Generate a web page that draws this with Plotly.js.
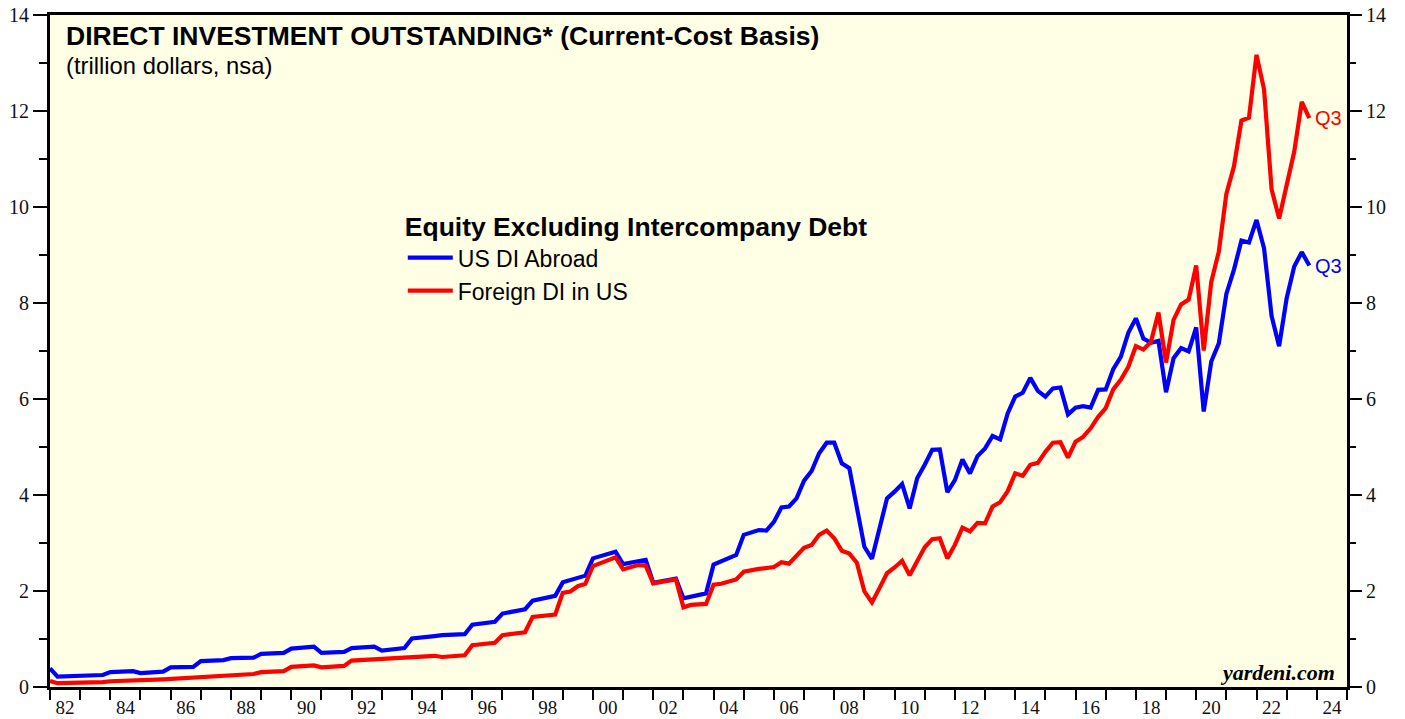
<!DOCTYPE html>
<html>
<head>
<meta charset="utf-8">
<script src="https://cdn.plot.ly/plotly-3.0.1.min.js"></script>
<style>
html,body{margin:0;padding:0;background:#ffffff;}
#chart{width:1405px;height:719px;}
</style>
</head>
<body>
<div id="chart"></div>
<script>
// ---- DATA (trillion dollars, quarter-end positions as decimal years) ----
const usAbroadX = [1982.0,1982.25,1983.75,1984.0,1984.75,1985.0,1985.75,1986.0,1986.75,1987.0,1987.75,1988.0,1988.75,1989.0,1989.75,1990.0,1990.75,1991.0,1991.75,1992.0,1992.75,1993.0,1993.75,1994.0,1994.75,1995.0,1995.75,1996.0,1996.75,1997.0,1997.75,1998.0,1998.75,1999.0,1999.75,2000.0,2000.75,2001.0,2001.75,2002.0,2002.75,2003.0,2003.75,2004.0,2004.75,2005.0,2005.5,2005.75,2006.0,2006.25,2006.5,2006.75,2007.0,2007.25,2007.5,2007.75,2008.0,2008.25,2008.5,2008.75,2009.0,2009.25,2009.5,2009.75,2010.0,2010.25,2010.5,2010.75,2011.0,2011.25,2011.5,2011.75,2012.0,2012.25,2012.5,2012.75,2013.0,2013.25,2013.5,2013.75,2014.0,2014.25,2014.5,2014.75,2015.0,2015.25,2015.5,2015.75,2016.0,2016.25,2016.5,2016.75,2017.0,2017.25,2017.5,2017.75,2018.0,2018.25,2018.5,2018.75,2019.0,2019.25,2019.5,2019.75,2020.0,2020.25,2020.5,2020.75,2021.0,2021.25,2021.5,2021.75,2022.0,2022.25,2022.5,2022.75,2023.0,2023.25,2023.5,2023.75];
const usAbroadY = [0.39,0.215,0.25,0.31,0.33,0.29,0.32,0.41,0.42,0.54,0.56,0.60,0.61,0.69,0.71,0.80,0.84,0.71,0.73,0.81,0.84,0.76,0.81,1.01,1.06,1.08,1.10,1.30,1.36,1.53,1.62,1.80,1.90,2.18,2.32,2.68,2.82,2.56,2.65,2.17,2.26,1.85,1.95,2.55,2.75,3.17,3.27,3.26,3.44,3.74,3.76,3.93,4.30,4.50,4.87,5.09,5.09,4.66,4.56,3.70,2.92,2.67,3.30,3.93,4.07,4.23,3.72,4.35,4.63,4.94,4.95,4.06,4.31,4.74,4.45,4.81,4.97,5.23,5.16,5.70,6.05,6.13,6.44,6.17,6.05,6.22,6.24,5.68,5.82,5.85,5.82,6.19,6.20,6.62,6.88,7.38,7.68,7.26,7.17,7.21,6.14,6.85,7.06,6.99,7.49,5.74,6.78,7.16,8.19,8.69,9.30,9.26,9.73,9.14,7.73,7.10,8.10,8.76,9.06,8.78];

const foreignInUsX = [1982.0,1982.25,1983.75,1984.0,1985.75,1986.0,1986.75,1987.0,1988.75,1989.0,1989.75,1990.0,1990.75,1991.0,1991.75,1992.0,1994.75,1995.0,1995.75,1996.0,1996.75,1997.0,1997.75,1998.0,1998.75,1999.0,1999.25,1999.5,1999.75,2000.0,2000.25,2000.5,2000.75,2001.0,2001.5,2001.75,2002.0,2002.75,2003.0,2003.25,2003.75,2004.0,2004.25,2004.75,2005.0,2005.5,2006.0,2006.25,2006.5,2007.0,2007.25,2007.5,2007.75,2008.0,2008.25,2008.5,2008.75,2009.0,2009.25,2009.5,2009.75,2010.0,2010.25,2010.5,2010.75,2011.0,2011.25,2011.5,2011.75,2012.0,2012.25,2012.5,2012.75,2013.0,2013.25,2013.5,2013.75,2014.0,2014.25,2014.5,2014.75,2015.0,2015.25,2015.5,2015.75,2016.0,2016.25,2016.5,2016.75,2017.0,2017.25,2017.5,2017.75,2018.0,2018.25,2018.5,2018.75,2019.0,2019.25,2019.5,2019.75,2020.0,2020.25,2020.5,2020.75,2021.0,2021.25,2021.5,2021.75,2022.0,2022.25,2022.5,2022.75,2023.0,2023.25,2023.5,2023.75];
const foreignInUsY = [0.125,0.08,0.10,0.12,0.16,0.17,0.19,0.215,0.27,0.31,0.33,0.42,0.45,0.41,0.44,0.55,0.65,0.625,0.66,0.87,0.92,1.08,1.14,1.46,1.51,1.96,1.99,2.10,2.15,2.52,2.58,2.66,2.70,2.45,2.54,2.53,2.16,2.24,1.66,1.71,1.73,2.13,2.15,2.24,2.40,2.46,2.50,2.60,2.57,2.90,2.96,3.17,3.26,3.10,2.84,2.78,2.59,1.99,1.76,2.06,2.37,2.49,2.63,2.33,2.63,2.91,3.08,3.10,2.68,2.96,3.32,3.24,3.42,3.41,3.76,3.85,4.08,4.45,4.40,4.63,4.67,4.90,5.09,5.10,4.78,5.11,5.21,5.39,5.63,5.81,6.20,6.40,6.67,7.10,7.03,7.19,7.80,6.76,7.65,7.97,8.07,8.78,7.01,8.44,9.07,10.27,10.84,11.80,11.86,13.17,12.45,10.37,9.76,10.44,11.15,12.19,11.85];

const yearTicks = [1982,1983,1984,1985,1986,1987,1988,1989,1990,1991,1992,1993,1994,1995,1996,1997,1998,1999,2000,2001,2002,2003,2004,2005,2006,2007,2008,2009,2010,2011,2012,2013,2014,2015,2016,2017,2018,2019,2020,2021,2022,2023,2024,2025];
const labelYears = [1982,1984,1986,1988,1990,1992,1994,1996,1998,2000,2002,2004,2006,2008,2010,2012,2014,2016,2018,2020,2022,2024];
const yearLabels = ['82','84','86','88','90','92','94','96','98','00','02','04','06','08','10','12','14','16','18','20','22','24'];

const seriesNames = ['US DI Abroad','Foreign DI in US'];
const seriesColors = ['#0000ff','#ff0000'];
const lastTag = 'Q3';

// ---- CHART ----
const xRange = [1982, 2025];
const yRange = [0, 14];
const serif = 'Liberation Serif, Times New Roman, serif';
const sans = 'Liberation Sans, Arial, sans-serif';

// Blue on the primary axes (tick marks, left labels); red on the overlaid axes (year labels, right labels).
const traces = [
  {x: usAbroadX, y: usAbroadY, name: seriesNames[0], type: 'scatter', mode: 'lines',
   xaxis: 'x', yaxis: 'y', line: {color: seriesColors[0], width: 4.2}, hoverinfo: 'skip'},
  {x: foreignInUsX, y: foreignInUsY, name: seriesNames[1], type: 'scatter', mode: 'lines',
   xaxis: 'x2', yaxis: 'y2', line: {color: seriesColors[1], width: 4.2}, hoverinfo: 'skip'}
];

const tickFont = {family: serif, size: 20, color: '#111'};

const layout = {
  width: 1405, height: 719,
  margin: {l: 50, r: 58, t: 15, b: 32, pad: 0},
  paper_bgcolor: '#ffffff',
  plot_bgcolor: '#ffffe5',
  showlegend: true,
  legend: {
    x: 0.272, y: 0.722, xanchor: 'left', yanchor: 'top',
    bgcolor: 'rgba(0,0,0,0)', borderwidth: 0,
    title: {text: '<b>Equity Excluding Intercompany Debt</b>', font: {family: sans, size: 26.5, color: '#000'}},
    font: {family: sans, size: 23, color: '#000'},
    itemwidth: 45, tracegroupgap: 0
  },
  xaxis: {
    type: 'linear', range: xRange, tickmode: 'array', tickvals: yearTicks,
    ticktext: yearTicks.map(() => ''),
    ticks: 'outside', ticklen: 10, tickwidth: 2, tickcolor: '#000',
    showline: true, linewidth: 3, linecolor: '#000', mirror: true,
    showgrid: false, zeroline: false, fixedrange: true
  },
  xaxis2: {
    type: 'linear', range: xRange, overlaying: 'x', anchor: 'y', side: 'bottom',
    tickmode: 'array', tickvals: labelYears.map(y => y + 0.5), ticktext: yearLabels,
    ticks: 'outside', ticklen: 3, tickcolor: 'rgba(0,0,0,0)',
    showline: false, showgrid: false, zeroline: false,
    tickfont: {family: serif, size: 19, color: '#111'}, fixedrange: true
  },
  yaxis: {
    range: yRange, tickmode: 'linear', tick0: 0, dtick: 2,
    ticks: 'outside', ticklen: 14, tickwidth: 2, tickcolor: '#000',
    minor: {tickmode: 'linear', tick0: 0, dtick: 1, ticks: 'outside', ticklen: 8, tickwidth: 2, tickcolor: '#000', showgrid: false},
    showline: true, linewidth: 3, linecolor: '#000', mirror: true,
    showgrid: false, zeroline: false, tickfont: tickFont, fixedrange: true
  },
  yaxis2: {
    range: yRange, overlaying: 'y', side: 'right', anchor: 'x',
    tickmode: 'linear', tick0: 0, dtick: 2,
    ticks: 'outside', ticklen: 14, tickwidth: 2, tickcolor: '#000',
    minor: {tickmode: 'linear', tick0: 0, dtick: 1, ticks: 'outside', ticklen: 8, tickwidth: 2, tickcolor: '#000', showgrid: false},
    showline: false, showgrid: false, zeroline: false, tickfont: tickFont, fixedrange: true
  },
  annotations: [
    {xref: 'paper', yref: 'paper', x: 0.0105, y: 0.969, xanchor: 'left', yanchor: 'middle',
     text: '<b>DIRECT INVESTMENT OUTSTANDING* (Current-Cost Basis)</b>', showarrow: false,
     font: {family: sans, size: 26.5, color: '#000'}},
    {xref: 'paper', yref: 'paper', x: 0.0105, y: 0.925, xanchor: 'left', yanchor: 'middle',
     text: '(trillion dollars, nsa)', showarrow: false,
     font: {family: sans, size: 23.8, color: '#000'}},
    {xref: 'paper', yref: 'paper', x: 0.9925, y: 0.022, xanchor: 'right', yanchor: 'middle',
     text: '<b><i>yardeni.com</i></b>', showarrow: false,
     font: {family: serif, size: 22, color: '#000'}},
    {xref: 'x', yref: 'y', x: foreignInUsX[foreignInUsX.length - 1], y: foreignInUsY[foreignInUsY.length - 1],
     xanchor: 'left', yanchor: 'middle', xshift: 4, text: lastTag, showarrow: false,
     font: {family: sans, size: 20, color: seriesColors[1]}},
    {xref: 'x', yref: 'y', x: usAbroadX[usAbroadX.length - 1], y: usAbroadY[usAbroadY.length - 1],
     xanchor: 'left', yanchor: 'middle', xshift: 4, text: lastTag, showarrow: false,
     font: {family: sans, size: 20, color: seriesColors[0]}}
  ]
};

Plotly.newPlot('chart', traces, layout, {displayModeBar: false, staticPlot: true});
</script>
</body>
</html>
